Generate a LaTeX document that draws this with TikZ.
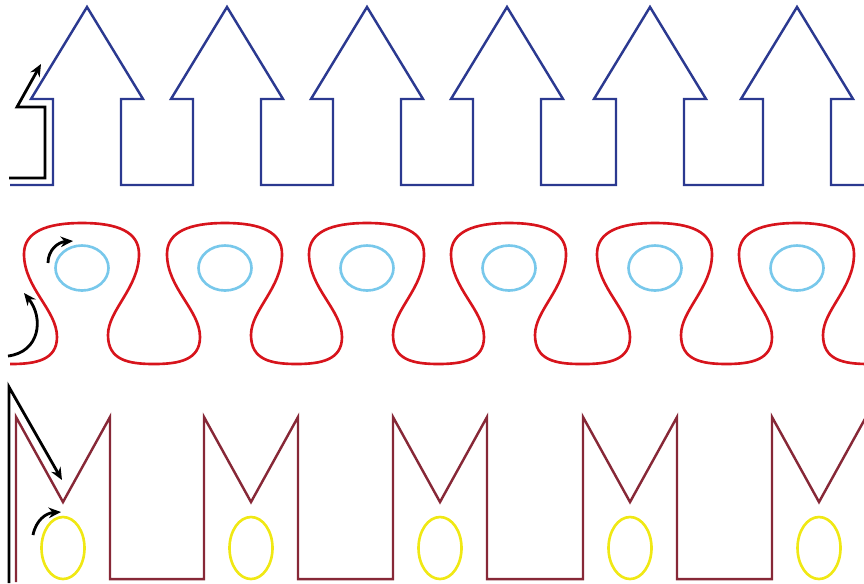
\documentclass[tikz,border=0pt]{standalone}
\usepackage{tikz}
\usetikzlibrary{arrows.meta}

\definecolor{arrowblue}{RGB}{43,57,144}
\definecolor{loopred}{RGB}{215,20,28}
\definecolor{ringblue}{RGB}{120,200,235}
\definecolor{mmaroon}{RGB}{135,40,55}
\definecolor{ringyellow}{RGB}{240,232,20}

\tikzset{
  blueline/.style={arrowblue, line width=1.4pt},
  redline/.style={loopred, line width=1.5pt},
  ringline/.style={ringblue, line width=1.5pt},
  mline/.style={mmaroon, line width=1.4pt},
  yellowring/.style={ringyellow, line width=1.5pt},
  guide/.style={black, line width=1.6pt, -{Stealth[length=7pt,width=6pt]}}
}

\begin{document}
\begin{tikzpicture}[x=0.02cm, y=-0.02cm]
        \clip (0,0) rectangle (864,583);
        \useasboundingbox (0,0) rectangle (864,583);

        % Top row: chain of arrow outlines
        \draw[blueline] (10,185)
          \foreach \c in {87,227,367,507,650,797} {
            -- (\c-34,185) -- (\c-34,99) -- (\c-56,99) -- (\c,7)
            -- (\c+56,99) -- (\c+34,99) -- (\c+34,185)
          } -- (864,185);

        % Guide arrow along the first outline
        \draw[guide] (9,178) -- (45,178) -- (45,107) -- (17,107) -- (41,64);

        % Middle row: bulb-shaped loops
        \draw[redline] (10,364)
          \foreach \c in {82,225,367,509,655,797} {
            -- (\c-71,364)
            .. controls (\c-46,364) and (\c-25,360) .. (\c-25,337)
            .. controls (\c-25,310) and (\c-58,288) .. (\c-58,254)
            .. controls (\c-58,232) and (\c-36,223) .. (\c,223)
            .. controls (\c+36,223) and (\c+57,232) .. (\c+57,254)
            .. controls (\c+57,288) and (\c+26,310) .. (\c+26,335)
            .. controls (\c+26,360) and (\c+46,364) .. (\c+72,364)
          };

        % Rings inside the loops
        \foreach \c in {82,225,367,509,655,797}
          \draw[ringline] (\c,268) ellipse (26.5 and 22.5);

        % Guide arrows for the loops
        \draw[guide] (8,356) .. controls (40,352) and (44,318) .. (24,293);
        \draw[guide] (48,263) .. controls (48,250) and (58,242) .. (73,241);

        % Bottom row: M-shaped outlines
        \draw[mline] (16,582)
          \foreach \L in {16,204,393,583,772} {
            -- (\L,579) -- (\L,417) -- (\L+47,502) -- (\L+94,417) -- (\L+94,579)
          } -- (864,579);

        % Yellow rings below the notches
        \foreach \L in {16,204,393,583,772}
          \draw[yellowring] (\L+47,548) ellipse (21.5 and 31);

        % Guide arrows for the M outlines
        \draw[guide] (9,583) -- (9,387) -- (62,480);
        \draw[guide] (33,535) .. controls (36,520) and (46,513) .. (61,512);

    \end{tikzpicture}
\end{document}
